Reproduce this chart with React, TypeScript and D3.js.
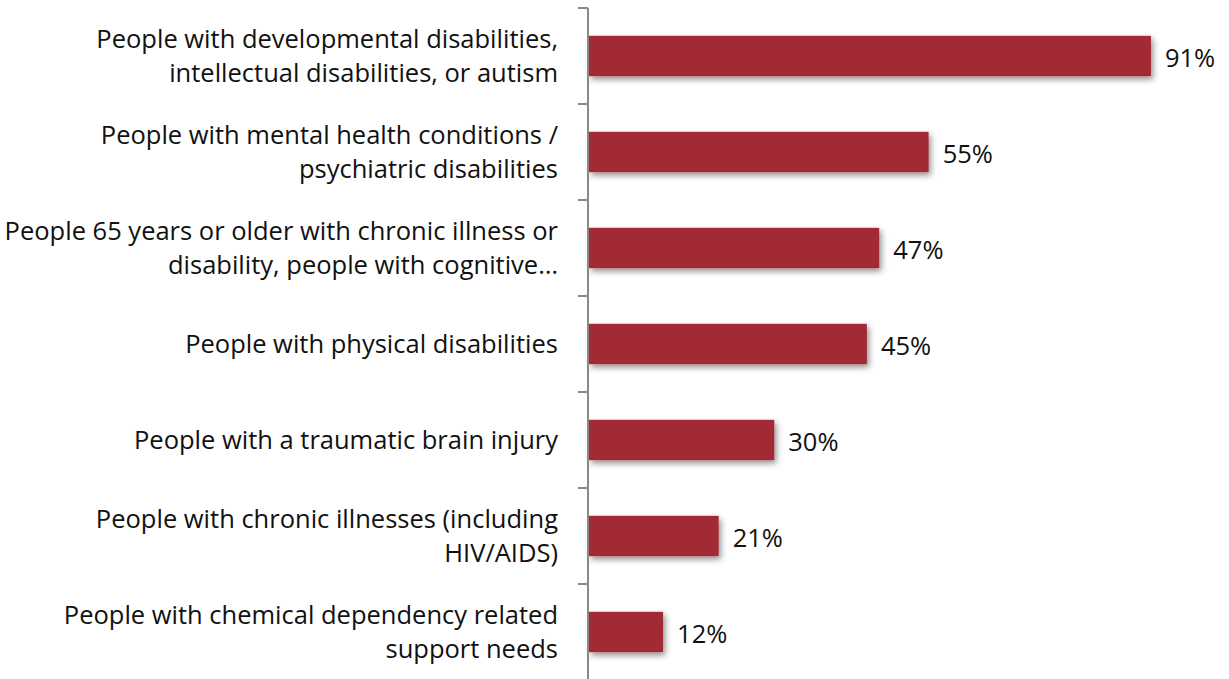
import React from "react";
import * as d3 from "d3";

const categories = [
  "People with developmental disabilities,\nintellectual disabilities, or autism",
  "People with mental health conditions /\npsychiatric disabilities",
  "People 65 years or older with chronic illness or\ndisability, people with cognitive…",
  "People with physical disabilities",
  "People with a traumatic brain injury",
  "People with chronic illnesses (including\nHIV/AIDS)",
  "People with chemical dependency related\nsupport needs",
];
const values = [0.91, 0.55, 0.47, 0.45, 0.30, 0.21, 0.12];

const W = 1229;
const H = 679;

export default function App() {
  const axisX = 588;
  const y = d3.scaleBand<string>().domain(categories).range([8, 680]).paddingInner(0.58).paddingOuter(0.29);
  const band = d3.scaleBand<string>().domain(categories).range([8, 680]);
  const x = d3.scaleLinear().domain([0, 1]).range([axisX + 1, 1206.5]);
  const fmt = d3.format(".0%");
  const font = "'Open Sans', sans-serif";
  const ticks = d3.range(categories.length + 1).map((i) => 8 + i * band.step());
  return (
    <svg width={W} height={H} style={{ position: "absolute", left: 0, top: 0 }}>
      <defs>
        <filter id="sh" x="-10%" y="-30%" width="130%" height="190%">
          <feDropShadow dx="2" dy="3" stdDeviation="3" floodColor="#000" floodOpacity="0.45" />
        </filter>
      </defs>
      <rect width={W} height={H} fill="#fff" />
      {categories.map((c, i) => {
        const lines = c.split("\n");
        const cy = band(c)! + band.bandwidth() / 2;
        const lh = 34;
        const y0 = cy - ((lines.length - 1) * lh) / 2;
        return (
          <g key={c}>
            <rect x={x(0)} y={y(c)} width={x(values[i]) - x(0)} height={y.bandwidth()} fill="#A12A36" filter="url(#sh)" />
            {lines.map((l, j) => (
              <text key={j} x={558} y={y0 + j * lh} dy="0.35em" textAnchor="end" fontFamily={font} fontSize={25.5} fill="#111">
                {l}
              </text>
            ))}
            <text x={x(values[i]) + 14} y={cy + 2} dy="0.35em" fontFamily={font} fontSize={25.5} fill="#111">
              {fmt(values[i])}
            </text>
          </g>
        );
      })}
      <line x1={axisX} x2={axisX} y1={8} y2={680} stroke="#888" strokeWidth={2} />
      {ticks.map((t, i) => (
        <line key={i} x1={578} x2={axisX} y1={t} y2={t} stroke="#888" strokeWidth={2} />
      ))}
    </svg>
  );
}
